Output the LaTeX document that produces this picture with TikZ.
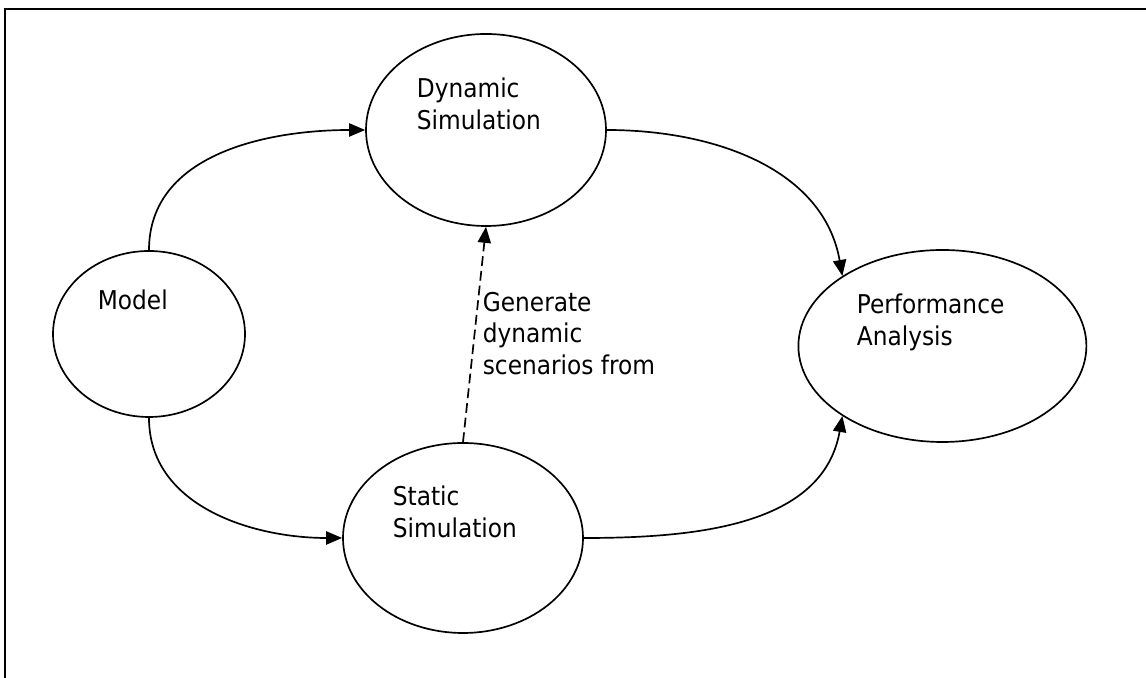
\documentclass[tikz,border=0pt]{standalone}
\usepackage{fontspec}
\setmainfont{DejaVu Sans}[FakeStretch=0.9]
\usepackage{tikz}
\usetikzlibrary{shapes,positioning,arrows.meta}
\tikzset{ell/.style={ellipse,draw,inner sep=0pt}}
\tikzset{txt/.style={anchor=north west,align=left,inner sep=0pt,font=\fontsize{18.4}{22.6}\selectfont}}

\begin{document}
\begin{tikzpicture}[>={Triangle[length=4mm,width=3.3mm]},line width=1.2pt]
    \useasboundingbox (0,0) rectangle (28.65,16.95);
    \draw [line width=1.6pt] (0.125,0) -- (0.125,16.725) -- (28.65,16.725);

    \node[ell,minimum width=4.8cm,minimum height=4.15cm] (m)at (3.725,8.6) {};
    \node[ell,minimum width=6cm,minimum height=4.8cm] (ds)at (12.15,13.7) {};
    \node[ell,minimum width=6cm,minimum height=4.75cm] (ss)at (11.575,3.5) {};
    \node[ell,minimum width=7.2cm,minimum height=4.8cm] (pa)at (23.56,8.3) {};

    \node[txt] (mt)at (2.425,9.725) {Model};
    \node[txt] (dst)at (10.4,15.025) {Dynamic\\Simulation};
    \node[txt] (sst)at (9.8,4.825) {Static\\Simulation};
    \node[txt] (pat)at (21.4,9.625) {Performance\\Analysis};
    \node[txt] (gen)at (12.05,9.675) {Generate\\dynamic\\scenarios from};

    \draw [->] (m.north) to [out=90,in=180] (ds.west);
    \draw [->] (m.south) to [out=-90,in=180] (ss.west);
    \draw [->] (ds.east) to [out=0,in=100] (pa.145);
    \draw [->] (ss.east) to [out=0,in=-100] (pa.215);
    \draw [->,dash pattern=on 7pt off 3.5pt] (ss.north) -- (ds.south);
\end{tikzpicture}
\end{document}
